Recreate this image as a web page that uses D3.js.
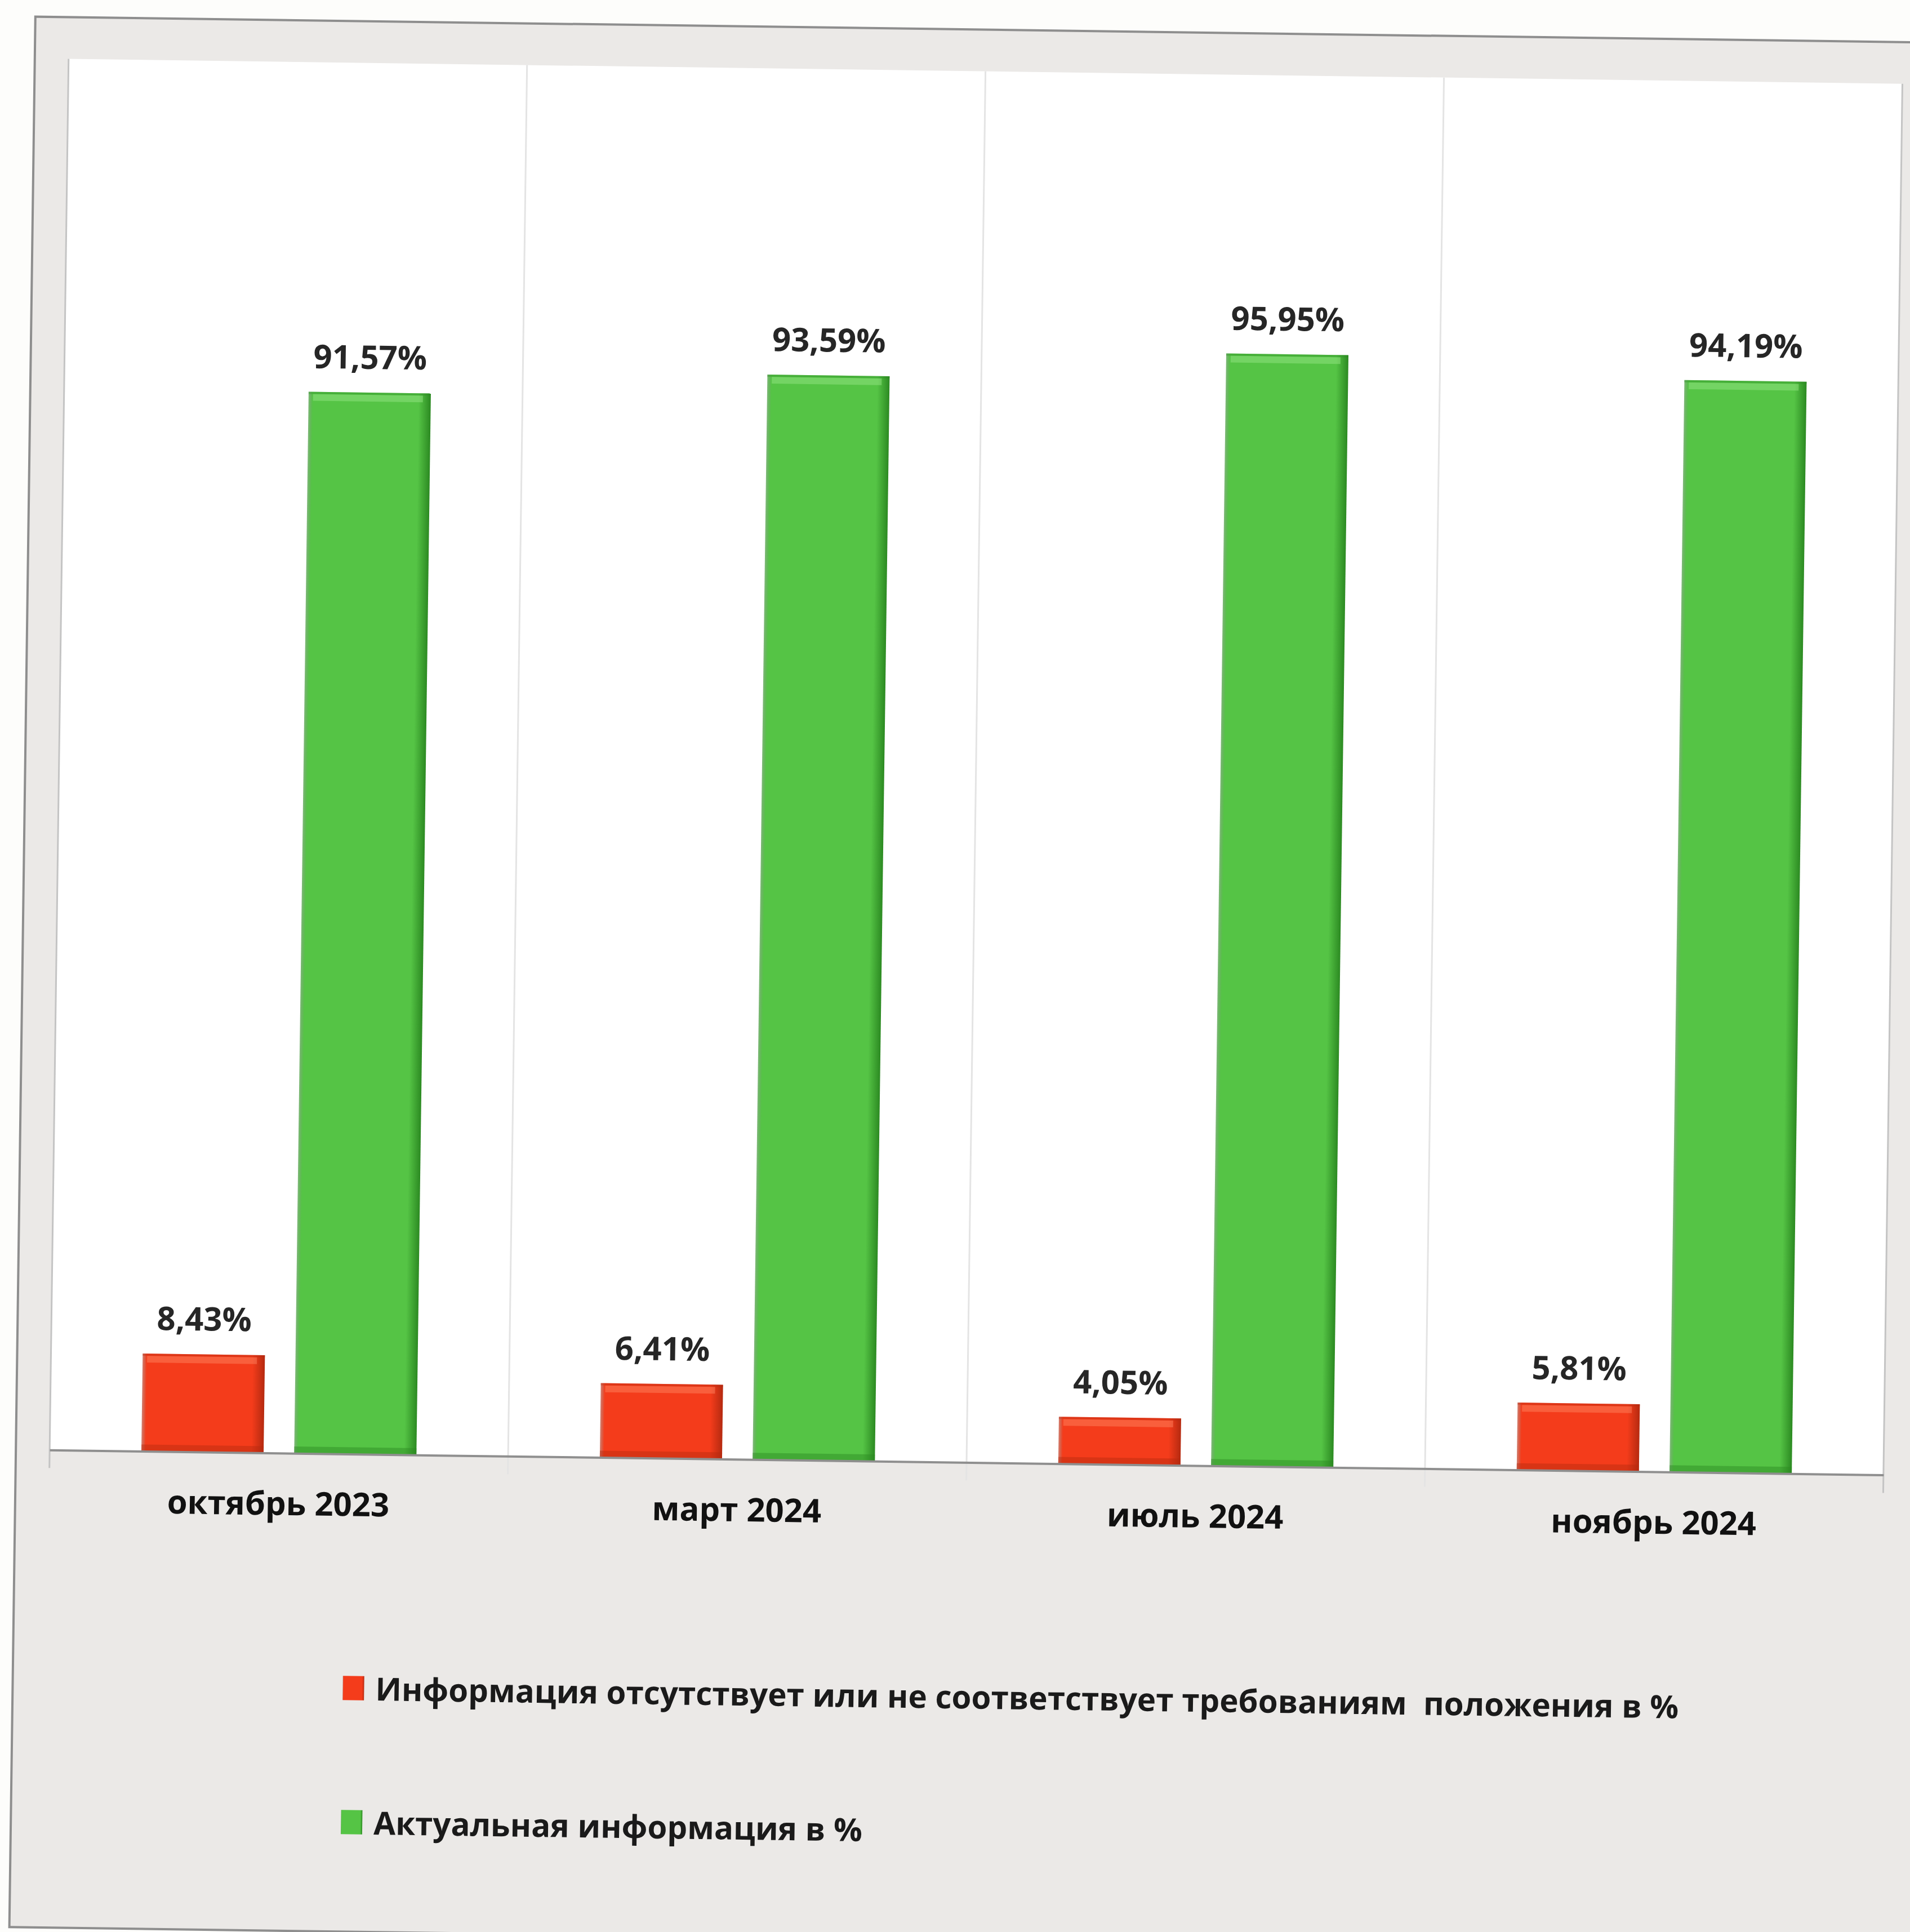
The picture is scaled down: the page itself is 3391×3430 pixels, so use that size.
<!DOCTYPE html>
<html>
<head>
<meta charset="utf-8">
<script src="https://cdn.jsdelivr.net/npm/d3@7"></script>
<style>
  body { margin: 0; background: #fdfdfb; }
  svg { display: block; }
</style>
</head>
<body>
<svg id="chart" width="3391" height="3430"></svg>
<script>
// ---------------- data ----------------
const categories = ["октябрь 2023", "март 2024", "июль 2024", "ноябрь 2024"];
const seriesKeys = ["missing", "actual"];
const seriesNames = [
  "Информация отсутствует или не соответствует требованиям  положения в %",
  "Актуальная информация в %"
];
const missingInfo = [8.43, 6.41, 4.05, 5.81];
const actualInfo = [91.57, 93.59, 95.95, 94.19];
const yDomain = [0, 120];

// ---------------- layout ----------------
const plot = { left: 100, right: 3356, top: 126, bottom: 2596 };
const colors = {
  missing: { main: "#f43c1b", dark: "#b52a10", light: "#ff8a66" },
  actual:  { main: "#55c445", dark: "#2c8a22", light: "#9be88a" }
};

const svg = d3.select("#chart");
const defs = svg.append("defs");

seriesKeys.forEach(k => {
  const c = colors[k];
  const hg = defs.append("linearGradient").attr("id", "hg-" + k)
    .attr("x1", "0").attr("x2", "1").attr("y1", "0").attr("y2", "0");
  hg.append("stop").attr("offset", "0").attr("stop-color", c.dark).attr("stop-opacity", 0.6);
  hg.append("stop").attr("offset", "0.035").attr("stop-color", c.main);
  hg.append("stop").attr("offset", "0.9").attr("stop-color", c.main);
  hg.append("stop").attr("offset", "1").attr("stop-color", c.dark);
});

// whole scan is slightly rotated
const root = svg.append("g").attr("transform", "rotate(0.78,1695,1715)");

// frame
root.append("rect")
  .attr("x", 40).attr("y", 52).attr("width", 3420).attr("height", 3392)
  .attr("fill", "#ebe9e7").attr("stroke", "#8e8e8e").attr("stroke-width", 4);

// plot area
root.append("rect")
  .attr("x", plot.left).attr("y", plot.top)
  .attr("width", plot.right - plot.left).attr("height", plot.bottom - plot.top)
  .attr("fill", "#ffffff");

// scales
const x0 = d3.scaleBand().domain(categories).range([plot.left, plot.right]);
const bw = x0.bandwidth();
const x1 = d3.scaleBand().domain(seriesKeys).range([0.2 * bw, 0.8 * bw]).paddingInner(0.2);
const y = d3.scaleLinear().domain(yDomain).range([plot.bottom, plot.top]);

// separators (category boundaries + plot edges), extend below axis as ticks
const bounds = categories.map(c => x0(c)).concat([plot.right]);
root.append("g").selectAll("line").data(bounds).join("line")
  .attr("x1", d => d).attr("x2", d => d)
  .attr("y1", plot.top).attr("y2", plot.bottom + 32)
  .attr("stroke", (d, i) => (i === 0 || i === bounds.length - 1) ? "#c4c4c4" : "#e4e4e4")
  .attr("stroke-width", 3);

// bars
const rows = categories.map((c, i) => ({ cat: c, missing: missingInfo[i], actual: actualInfo[i] }));
const fmt = d3.formatLocale({ decimal: ",", thousands: " ", grouping: [3], currency: ["", ""] }).format(".2f");

const groups = root.append("g").selectAll("g").data(rows).join("g")
  .attr("transform", d => `translate(${x0(d.cat)},0)`);

const bars = groups.selectAll("g.bar").data(d => seriesKeys.map(k => ({ key: k, value: d[k] })))
  .join("g").attr("class", "bar");

bars.append("rect")
  .attr("x", d => x1(d.key)).attr("width", x1.bandwidth())
  .attr("y", d => y(d.value)).attr("height", d => y(0) - y(d.value))
  .attr("fill", d => `url(#hg-${d.key})`);
// top highlight
bars.append("rect")
  .attr("x", d => x1(d.key) + 8).attr("width", x1.bandwidth() - 22)
  .attr("y", d => y(d.value) + 4).attr("height", 12)
  .attr("fill", d => colors[d.key].light).attr("opacity", 0.45);
// top edge
bars.append("rect")
  .attr("x", d => x1(d.key)).attr("width", x1.bandwidth())
  .attr("y", d => y(d.value)).attr("height", 4)
  .attr("fill", d => colors[d.key].dark).attr("opacity", 0.35);
// bottom shade
bars.append("rect")
  .attr("x", d => x1(d.key)).attr("width", x1.bandwidth())
  .attr("y", y(0) - 12).attr("height", 12)
  .attr("fill", d => colors[d.key].dark).attr("opacity", 0.45);

// value labels
bars.append("text")
  .attr("x", d => x1(d.key) + x1.bandwidth() / 2)
  .attr("y", d => y(d.value) - 42)
  .attr("text-anchor", "middle")
  .attr("font-family", "'Open Sans', sans-serif")
  .attr("font-weight", 700)
  .attr("font-size", 58)
  .attr("fill", "#262626")
  .text(d => fmt(d.value) + "%");

// x axis
const xAxis = root.append("g")
  .attr("transform", `translate(0,${plot.bottom})`)
  .call(d3.axisBottom(x0).tickSize(0).tickSizeOuter(0));
xAxis.select(".domain").attr("stroke", "#8f8f8f").attr("stroke-width", 4);
xAxis.selectAll("text")
  .attr("y", 110).attr("dy", 0)
  .attr("font-family", "'Open Sans', sans-serif")
  .attr("font-weight", 700)
  .attr("font-size", 58)
  .attr("fill", "#111111");

// legend
const legend = root.append("g").selectAll("g").data(seriesKeys).join("g")
  .attr("transform", (d, i) => `translate(626,${3033 + i * 238})`);
legend.append("rect")
  .attr("x", 0).attr("y", -43).attr("width", 38).attr("height", 43)
  .attr("fill", d => `url(#hg-${d})`);
legend.append("text")
  .attr("x", 58).attr("y", 0)
  .attr("font-family", "'Open Sans', sans-serif")
  .attr("font-weight", 700)
  .attr("font-size", 56.5)
  .attr("fill", "#1a1a1a")
  .style("white-space", "pre")
  .text((d, i) => seriesNames[i]);
</script>
</body>
</html>
